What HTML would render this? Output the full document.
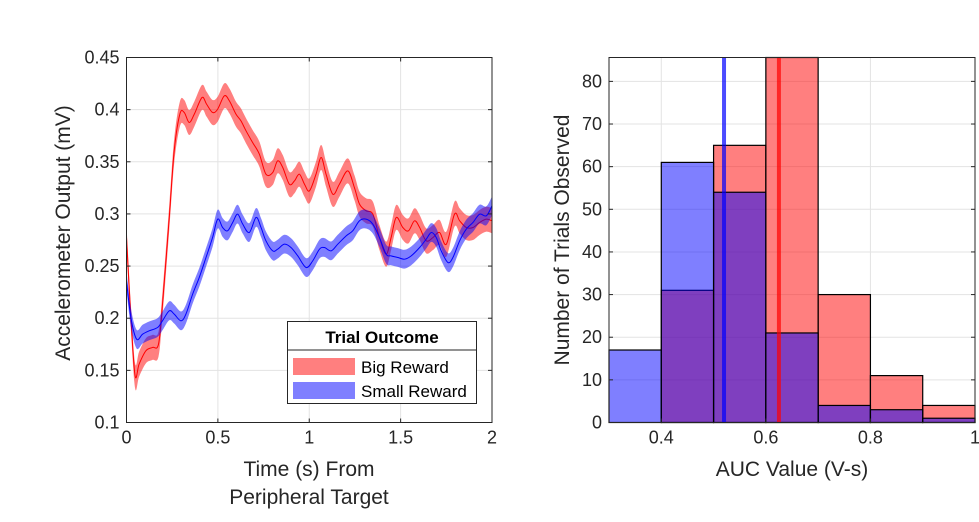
<!DOCTYPE html>
<html><head><meta charset="utf-8"><style>
body{margin:0;background:#fff;}
svg{display:block;font-family:"Liberation Sans",Arial,sans-serif;}
</style></head><body>
<svg id="fig" width="979" height="522" viewBox="0 0 979 522" xmlns="http://www.w3.org/2000/svg">
<rect width="979" height="522" fill="#fff"/>
<g id="left"></g>
<g id="right"></g>
</svg>
<script>
const redT=[0,.024,.047,.069,.106,.142,.175,.197,.234,.261,.292,.316,.343,.371,.413,.438,.471,.499,.535,.563,.599,.626,.654,.690,.727,.763,.800,.827,.855,.891,.919,.946,.974,1.001,1.037,1.065,1.092,1.129,1.165,1.211,1.247,1.275,1.311,1.348,1.384,1.421,1.448,1.476,1.512,1.543,1.576,1.604,1.640,1.677,1.713,1.750,1.795,1.823,1.859,1.896,1.932,1.969,2.0];
const redV=[.2774,.2007,.1448,.156,.1687,.172,.175,.2135,.2966,.3605,.3957,.3973,.3877,.3957,.4116,.4053,.3973,.4005,.4132,.4084,.3957,.3893,.3797,.3685,.3573,.3381,.3397,.3509,.3445,.3285,.3317,.3381,.3285,.3221,.3381,.3541,.3381,.3189,.3285,.3413,.3253,.3094,.3030,.2998,.2774,.2614,.2774,.2966,.287,.2838,.2934,.287,.2742,.2774,.2822,.271,.2998,.2934,.287,.287,.2918,.295,.2934];
const blueT=[0,.024,.055,.088,.124,.170,.197,.234,.261,.298,.325,.362,.398,.435,.471,.499,.526,.553,.581,.608,.636,.672,.709,.736,.763,.800,.827,.864,.900,.937,.983,1.019,1.056,1.083,1.120,1.156,1.202,1.238,1.275,1.311,1.348,1.384,1.421,1.448,1.485,1.521,1.558,1.604,1.640,1.668,1.695,1.722,1.759,1.786,1.823,1.859,1.896,1.932,1.969,2.0];
const blueV=[.2358,.2007,.18,.1847,.1879,.1911,.1975,.2071,.2039,.1975,.2039,.2231,.239,.2582,.2774,.295,.287,.2838,.2918,.2998,.2902,.2822,.2966,.287,.2742,.2646,.2662,.271,.2678,.2598,.2486,.255,.2662,.2678,.2646,.271,.279,.2838,.2934,.295,.2902,.2774,.2614,.2598,.2582,.2566,.2598,.2678,.2758,.2822,.2774,.2646,.2534,.2582,.2742,.2854,.2918,.2998,.2982,.3078];
const redErr=0.012, blueErr=0.009;
const timeTicks=[0,0.5,1,1.5,2], timeTickLabels=["0","0.5","1","1.5","2"];
const outTicks=[0.1,0.15,0.2,0.25,0.3,0.35,0.4,0.45], outTickLabels=["0.1","0.15","0.2","0.25","0.3","0.35","0.4","0.45"];
const binEdges=[0.3,0.4,0.5,0.6,0.7,0.8,0.9,1.0];
const bigCounts=[0,31,65,95,30,11,4];
const smallCounts=[17,61,54,21,4,3,1];
const bigMean=0.625, smallMean=0.52;
const aucTicks=[0.4,0.6,0.8,1], aucTickLabels=["0.4","0.6","0.8","1"];
const countTicks=[0,10,20,30,40,50,60,70,80], countTickLabels=["0","10","20","30","40","50","60","70","80"];

const NS="http://www.w3.org/2000/svg";
const TF=18, AF=21;
function mk(p,tag,a,txt){const e=document.createElementNS(NS,tag);for(const k in a)e.setAttribute(k,a[k]);if(txt!==undefined)e.textContent=txt;p.appendChild(e);return e;}
function smooth(pts){let d="M"+pts[0][0].toFixed(2)+","+pts[0][1].toFixed(2);for(let i=0;i<pts.length-1;i++){const p0=pts[i-1]||pts[i],p1=pts[i],p2=pts[i+1],p3=pts[i+2]||p2;const c1=[p1[0]+(p2[0]-p0[0])/6,p1[1]+(p2[1]-p0[1])/6],c2=[p2[0]-(p3[0]-p1[0])/6,p2[1]-(p3[1]-p1[1])/6];d+="C"+c1[0].toFixed(2)+","+c1[1].toFixed(2)+" "+c2[0].toFixed(2)+","+c2[1].toFixed(2)+" "+p2[0].toFixed(2)+","+p2[1].toFixed(2);}return d;}

// LEFT
const L=document.getElementById('left');
const lx0=126.5,lx1=492,ly0=422.5,ly1=57.5;
const xL=t=>lx0+t/2*(lx1-lx0), yL=v=>ly0-(v-0.1)/0.35*(ly0-ly1);
mk(L,'rect',{x:lx0,y:ly1,width:lx1-lx0,height:ly0-ly1,fill:'#fff'});
timeTicks.forEach(t=>{const g=mk(L,'line',{x1:xL(t),x2:xL(t),y1:ly1,y2:ly0,stroke:'#e3e3e3','stroke-width':1});
});
outTicks.forEach(v=>{const g=mk(L,'line',{x1:lx0,x2:lx1,y1:yL(v),y2:yL(v),stroke:'#e3e3e3','stroke-width':1});
});
function band(T,V,err,col,name){
 const up=T.map((t,i)=>[xL(t),yL(V[i]+err)]), lo=T.map((t,i)=>[xL(t),yL(V[i]-err)]).reverse();
 let d=smooth(up)+"L"+smooth(lo).slice(1)+"Z";
 const p=mk(L,'path',{d:d,fill:col,'fill-opacity':0.5,stroke:'none'});
 
}
function line(T,V,col,name){const p=mk(L,'path',{d:smooth(T.map((t,i)=>[xL(t),yL(V[i])])),fill:'none',stroke:col,'stroke-width':1});
 }
band(redT,redV,redErr,'#ff0000','big-reward');
line(redT,redV,'#ff0000','big-reward');
band(blueT,blueV,blueErr,'#0000ff','small-reward');
line(blueT,blueV,'#0000ff','small-reward');
mk(L,'rect',{x:lx0,y:ly1,width:lx1-lx0,height:ly0-ly1,fill:'none',stroke:'#262626','stroke-width':1});
timeTicks.forEach((t,i)=>{mk(L,'line',{x1:xL(t),x2:xL(t),y1:ly0,y2:ly0-4,stroke:'#262626'});mk(L,'line',{x1:xL(t),x2:xL(t),y1:ly1,y2:ly1+4,stroke:'#262626'});
 const tx=mk(L,'text',{x:xL(t),y:ly0+21,'text-anchor':'middle','font-size':TF,fill:'#262626'},timeTickLabels[i]);
 });
outTicks.forEach((v,i)=>{mk(L,'line',{x1:lx0,x2:lx0+4,y1:yL(v),y2:yL(v),stroke:'#262626'});mk(L,'line',{x1:lx1,x2:lx1-4,y1:yL(v),y2:yL(v),stroke:'#262626'});
 const tx=mk(L,'text',{x:lx0-7,y:yL(v)+6,'text-anchor':'end','font-size':TF,fill:'#262626'},outTickLabels[i]);
 });
let t1=mk(L,'text',{x:309,y:476,'text-anchor':'middle','font-size':AF,fill:'#262626'},'Time (s) From');

let t2=mk(L,'text',{x:309,y:504,'text-anchor':'middle','font-size':AF,fill:'#262626'},'Peripheral Target');

let t3=mk(L,'text',{x:0,y:0,'text-anchor':'middle','font-size':AF,fill:'#262626',transform:'translate(70,233) rotate(-90)'},'Accelerometer Output (mV)');

// legend
const lg=mk(L,'g',{});

mk(lg,'rect',{x:287.5,y:321.5,width:189,height:82,fill:'#fff',stroke:'#262626'});
mk(lg,'line',{x1:287.5,x2:476.5,y1:350,y2:350,stroke:'#262626'});
let lt=mk(lg,'text',{x:382,y:343,'text-anchor':'middle','font-size':17,'font-weight':'bold',fill:'#000'},'Trial Outcome');

const e1=mk(lg,'g',{});
mk(e1,'rect',{x:293,y:358,width:62,height:17,fill:'#ff0000','fill-opacity':0.5});
mk(e1,'text',{x:361,y:373,'font-size':17,fill:'#000'},'Big Reward');
const e2=mk(lg,'g',{});
mk(e2,'rect',{x:293,y:382,width:62,height:17,fill:'#0000ff','fill-opacity':0.5});
mk(e2,'text',{x:361,y:397,'font-size':17,fill:'#000'},'Small Reward');

// RIGHT
const R=document.getElementById('right');
const rx0=609,rx1=975,ry0=422.5,ry1=57.5,ymax=85.6;
const xR=v=>rx0+(v-0.3)/0.7*(rx1-rx0), yR=c=>ry0-Math.min(c,ymax)/ymax*(ry0-ry1);
aucTicks.forEach(v=>{const g=mk(R,'line',{x1:xR(v),x2:xR(v),y1:ry1,y2:ry0,stroke:'#e3e3e3'});
});
countTicks.forEach(c=>{const g=mk(R,'line',{x1:rx0,x2:rx1,y1:yR(c),y2:yR(c),stroke:'#e3e3e3'});
});
function bars(counts,col,name){counts.forEach((c,i)=>{if(c<=0)return;
 const b=mk(R,'rect',{x:xR(binEdges[i]),y:yR(c),width:xR(binEdges[i+1])-xR(binEdges[i]),height:ry0-yR(c),fill:col,'fill-opacity':0.5,stroke:'#000','stroke-width':1.2});
 });}
bars(bigCounts,'#ff0000','big-reward');
bars(smallCounts,'#0000ff','small-reward');
let m1=mk(R,'line',{x1:xR(smallMean),x2:xR(smallMean),y1:ry1,y2:ry0,stroke:'#0000ff','stroke-opacity':0.7,'stroke-width':4});

let m2=mk(R,'line',{x1:xR(bigMean),x2:xR(bigMean),y1:ry1,y2:ry0,stroke:'#ff0000','stroke-opacity':0.7,'stroke-width':4});

mk(R,'rect',{x:rx0,y:ry1,width:rx1-rx0,height:ry0-ry1,fill:'none',stroke:'#262626'});
aucTicks.forEach((v,i)=>{mk(R,'line',{x1:xR(v),x2:xR(v),y1:ry0,y2:ry0-4,stroke:'#262626'});
 const tx=mk(R,'text',{x:xR(v),y:ry0+21,'text-anchor':'middle','font-size':TF,fill:'#262626'},aucTickLabels[i]);
 });
countTicks.forEach((c,i)=>{mk(R,'line',{x1:rx0,x2:rx0+4,y1:yR(c),y2:yR(c),stroke:'#262626'});mk(R,'line',{x1:rx1,x2:rx1-4,y1:yR(c),y2:yR(c),stroke:'#262626'});
 const tx=mk(R,'text',{x:rx0-7,y:yR(c)+6,'text-anchor':'end','font-size':TF,fill:'#262626'},countTickLabels[i]);
 });
let r1=mk(R,'text',{x:792,y:476,'text-anchor':'middle','font-size':AF,fill:'#262626'},'AUC Value (V-s)');

let r2=mk(R,'text',{x:0,y:0,'text-anchor':'middle','font-size':AF,fill:'#262626',transform:'translate(569,240) rotate(-90)'},'Number of Trials Observed');

</script>
</body></html>
